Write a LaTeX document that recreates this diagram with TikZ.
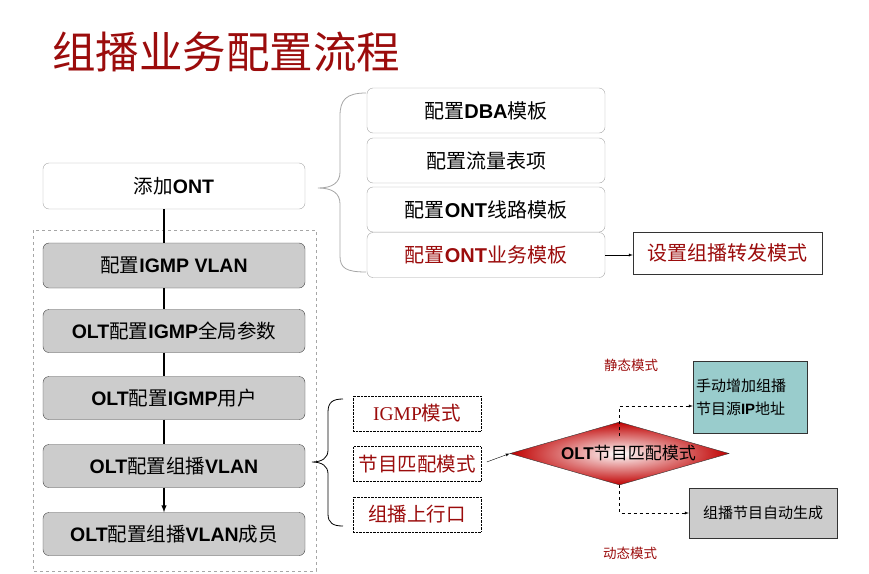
\documentclass[tikz,border=0pt]{standalone}
\usepackage{fontspec}
\setmainfont{Noto Sans CJK SC}
\newfontfamily\arialfont{Liberation Sans}
\newfontfamily\timesfont{Liberation Serif}
\usetikzlibrary{shapes.geometric,arrows}

\definecolor{titlered}{RGB}{155,12,12}
\definecolor{boxgray}{RGB}{204,204,204}
\definecolor{tealfill}{RGB}{153,204,204}
\newcommand{\lat}[1]{{\arialfont\bfseries #1}}
\newcommand{\fs}[1]{\fontsize{#1}{#1}\selectfont}

\begin{document}
\begin{tikzpicture}[x=1pt,y=-1pt,
	whitebox/.style={draw=gray!70,rounded corners=6pt,fill=white,minimum width=238pt,minimum height=45pt,font=\fs{20}},
	graybox/.style={draw=black!75,rounded corners=6pt,fill=boxgray,minimum width=262pt,minimum height=43pt,font=\fs{19.5}},
	dotbox/.style={draw,densely dotted,fill=white,minimum width=128pt,minimum height=35pt,text=titlered,font=\fs{19.5}},
	flowline/.style={line width=1.4pt,black},
	modelabel/.style={text=titlered,font=\fs{13.5}}]
\useasboundingbox (0,0) rectangle (869,573);

% title
\node[text=titlered,font=\fs{43.5}] (title) at (226,52) {组播业务配置流程};

% left column
\draw[gray!70,dashed] (33,230) rectangle (316,571);
\node[whitebox,minimum width=262pt,minimum height=46pt,font=\fs{19.5}] (ont) at (174,186) {添加\lat{ONT}};
\node[graybox,minimum height=45pt] (igmpVlan) at (174,265.5) {配置\lat{IGMP VLAN}};
\node[graybox] (igmpGlobal) at (174,331) {\lat{OLT}配置\lat{IGMP}全局参数};
\node[graybox] (igmpUser) at (174,398) {\lat{OLT}配置\lat{IGMP}用户};
\node[graybox] (mcVlan) at (174,466) {\lat{OLT}配置组播\lat{VLAN}};
\node[graybox] (mcMember) at (174,534) {\lat{OLT}配置组播\lat{VLAN}成员};

\draw[flowline] ([xshift=-10pt]ont.south) -- ([xshift=-10pt]igmpVlan.north);
\draw[flowline] ([xshift=-10pt]igmpVlan.south) -- ([xshift=-10pt]igmpGlobal.north);
\draw[flowline] ([xshift=-10pt]igmpGlobal.south) -- ([xshift=-10pt]igmpUser.north);
\draw[flowline] ([xshift=-10pt]igmpUser.south) -- ([xshift=-10pt]mcVlan.north);
\draw[flowline,-latex] ([xshift=-10pt]mcVlan.south) -- ([xshift=-10pt]mcMember.north);

% ONT templates
\node[whitebox] (tplDba) at (486,110.5) {配置\lat{DBA}模板};
\node[whitebox] (tplTraffic) at (486,160.5) {配置流量表项};
\node[whitebox] (tplLine) at (486,209.5) {配置\lat{ONT}线路模板};
\node[whitebox,text=titlered] (tplSrv) at (486,255) {配置\lat{ONT}业务模板};
\node[draw=black!80,fill=white,minimum width=189pt,minimum height=42pt,text=titlered,font=\fs{20}] (fwd) at (727.5,253) {设置组播转发模式};

\coordinate (braceTip) at (318,188);
\draw[gray!70,line width=0.8pt] (366,93) .. controls (346,93) and (340,100) .. (340,116) -- (340,172)
	.. controls (340,183) and (332,188) .. (braceTip)
	.. controls (332,188) and (340,193) .. (340,204) -- (340,256)
	.. controls (340,268) and (346,272) .. (366,272);
\draw[black,-latex] (tplSrv.east) -- (tplSrv.east -| fwd.west);

% program match modes
\node[dotbox] (igmpMode) at (417,413.5) {{\timesfont IGMP}模式};
\node[dotbox] (match) at (417,464) {节目匹配模式};
\node[dotbox] (uplink) at (417,514.5) {组播上行口};

\coordinate (brace2Tip) at (312,462);
\draw[black,line width=0.8pt] (343,399) .. controls (333,399) and (328,402) .. (328,412) -- (328,450)
	.. controls (328,458) and (322,462) .. (brace2Tip)
	.. controls (322,462) and (328,466) .. (328,474) -- (328,514)
	.. controls (328,523) and (333,526) .. (343,526);

\node[diamond,aspect=3.5,draw=black!80,shading=radial,inner color=white,outer color=red!75!black,minimum width=219pt,minimum height=63pt,inner sep=0pt,font=\fs{17}] (dmd) at (619.5,453.5) {\hspace*{18pt}\lat{OLT}节目匹配模式};
\draw[black,-latex,shorten <=6pt] (match.east) -- (dmd.west);

\node[draw=black!80,fill=tealfill,minimum width=114pt,minimum height=72pt,text width=108pt,inner sep=3pt,align=left,font=\fontsize{15}{23}\selectfont] (manual) at (750,397) {手动增加组播\\节目源\lat{IP}地址};
\node[draw=black!80,fill=boxgray,minimum width=148pt,minimum height=50pt,font=\fs{15}] (auto) at (763,513) {组播节目自动生成};

\draw[dashed,-latex] ([yshift=-14pt]dmd.north) |- ([yshift=-9pt]manual.west);
\draw[dashed,-latex] (dmd.south) |- (auto.west);

\node[modelabel] (staticLbl) at (631,365) {静态模式};
\node[modelabel] (dynLbl) at (630,553) {动态模式};
\end{tikzpicture}
\end{document}
